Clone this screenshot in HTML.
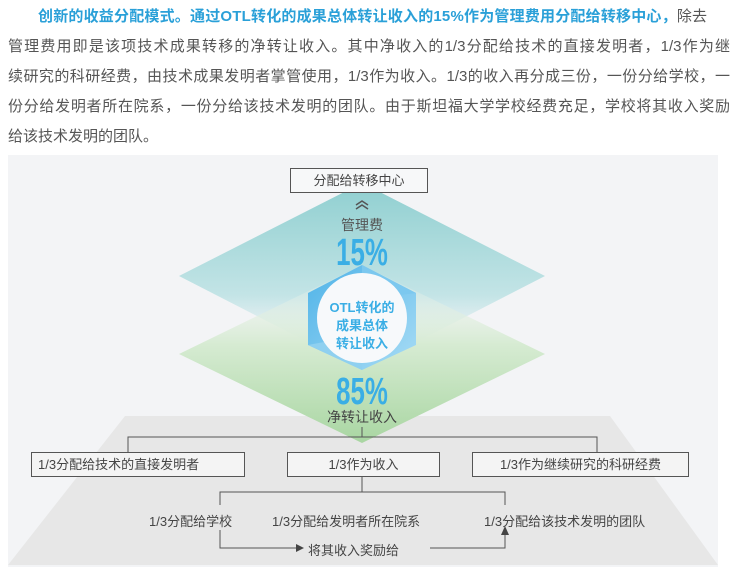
<!DOCTYPE html>
<html><head><meta charset="utf-8"><style>
body{margin:0;width:740px;height:586px;background:#fff;overflow:hidden;font-family:"Liberation Sans","Noto Sans CJK SC",sans-serif;}
.p{position:absolute;left:8px;width:722px;font-size:15px;color:#555;line-height:30px;}
.l{display:block;text-align:justify;text-align-last:justify;height:30px;white-space:nowrap;}
.b{color:#2aa0d8;font-weight:bold;}
.t{position:absolute;font-size:13px;color:#444;white-space:nowrap;}
.box{position:absolute;border:1px solid #555;background:#f4f4f4;font-size:13px;color:#444;text-align:center;line-height:23px;box-sizing:border-box;height:25px;}
</style></head><body>
<div class="p" style="top:2px">
<div class="l" style="padding-left:30px;text-align-last:auto;letter-spacing:0.2px"><span class="b">创新的收益分配模式。通过OTL转化的成果总体转让收入的15%作为管理费用分配给转移中心，</span>除去</div>
<div class="l">管理费用即是该项技术成果转移的净转让收入。其中净收入的1/3分配给技术的直接发明者，1/3作为继</div>
<div class="l">续研究的科研经费，由技术成果发明者掌管使用，1/3作为收入。1/3的收入再分成三份，一份分给学校，一</div>
<div class="l">份分给发明者所在院系，一份分给该技术发明的团队。由于斯坦福大学学校经费充足，学校将其收入奖励</div>
<div class="l" style="text-align-last:auto">给该技术发明的团队。</div>
</div>
<svg style="position:absolute;left:0;top:0" width="740" height="586">
<defs>
<linearGradient id="tg" x1="0" y1="0" x2="0" y2="1"><stop offset="0" stop-color="#8fcfd0"/><stop offset="0.6" stop-color="#c3e4e6"/><stop offset="1" stop-color="#f3f4f6" stop-opacity="0"/></linearGradient>
<linearGradient id="gg" x1="0" y1="0" x2="0" y2="1"><stop offset="0" stop-color="#f3f4f6" stop-opacity="0"/><stop offset="0.45" stop-color="#d6ebd2"/><stop offset="1" stop-color="#a9d6a2"/></linearGradient>
<linearGradient id="hx" x1="0" y1="0" x2="1" y2="1"><stop offset="0" stop-color="#4fb3e8"/><stop offset="1" stop-color="#a8dcf5"/></linearGradient>
</defs>
<rect x="8" y="155" width="710" height="412" fill="#f3f4f6"/>
<polygon points="125,416 610,416 718,565 8,565" fill="#e7e7e7"/>
<polygon points="362,183 545,276 362,370 179,276" fill="url(#tg)"/>
<polygon points="362,265 545,354 362,443 179,354" fill="url(#gg)"/>
<polygon points="362,265 416,293 416,345 362,370 308,345 308,293" fill="url(#hx)"/>
<polygon points="362,265 416,293 362,300" fill="#7cc8ef"/>
<polygon points="308,345 362,370 362,335" fill="#8fd0f0"/>
<circle cx="362" cy="318" r="45" fill="#f7f9fb"/>
<path d="M356,205 l6,-4 l6,4 M356,209 l6,-4 l6,4" stroke="#555" stroke-width="1.5" fill="none"/>
<g stroke="#555" stroke-width="1" fill="none">
<path d="M128,452 V437 H597 V452 M362,437 V427"/>
<path d="M362,477 V492 M220,505 V492 H505 V505"/>
<path d="M220,530 V548 H296 M430,548 H505 V532"/>
</g>
<polygon points="296,544 304,548 296,552" fill="#444"/>
<polygon points="501,535 505,526 509,535" fill="#444"/>
<text x="362" y="230" text-anchor="middle" font-size="14" fill="#555" font-family="Liberation Sans,Noto Sans CJK SC,sans-serif">管理费</text>
<text x="362" y="265" text-anchor="middle" font-size="38" font-weight="bold" fill="#3aaee5" font-family="Liberation Sans Narrow,Liberation Sans,sans-serif" transform="translate(362 0) scale(0.68 1) translate(-362 0)">15%</text>
<text x="362" y="404" text-anchor="middle" font-size="38" font-weight="bold" fill="#3aaee5" font-family="Liberation Sans Narrow,Liberation Sans,sans-serif" transform="translate(362 0) scale(0.68 1) translate(-362 0)">85%</text>
<text x="362" y="422" text-anchor="middle" font-size="14" fill="#444" font-family="Liberation Sans,Noto Sans CJK SC,sans-serif">净转让收入</text>
<g font-size="13" font-weight="bold" fill="#3aaee5" text-anchor="middle" font-family="Liberation Sans,Noto Sans CJK SC,sans-serif">
<text x="362" y="312">OTL转化的</text><text x="362" y="330">成果总体</text><text x="362" y="348">转让收入</text></g>
</svg>
<div class="box" style="left:290px;top:168px;width:138px;background:#f7f8f9;">分配给转移中心</div>
<div class="box" style="left:31px;top:452px;width:214px;text-align:left;padding-left:6px">1/3分配给技术的直接发明者</div>
<div class="box" style="left:287px;top:452px;width:153px">1/3作为收入</div>
<div class="box" style="left:472px;top:452px;width:217px">1/3作为继续研究的科研经费</div>
<div class="t" style="left:149px;top:511px">1/3分配给学校</div>
<div class="t" style="left:272px;top:511px">1/3分配给发明者所在院系</div>
<div class="t" style="left:484px;top:511px">1/3分配给该技术发明的团队</div>
<div class="t" style="left:308px;top:540px">将其收入奖励给</div>
</body></html>
